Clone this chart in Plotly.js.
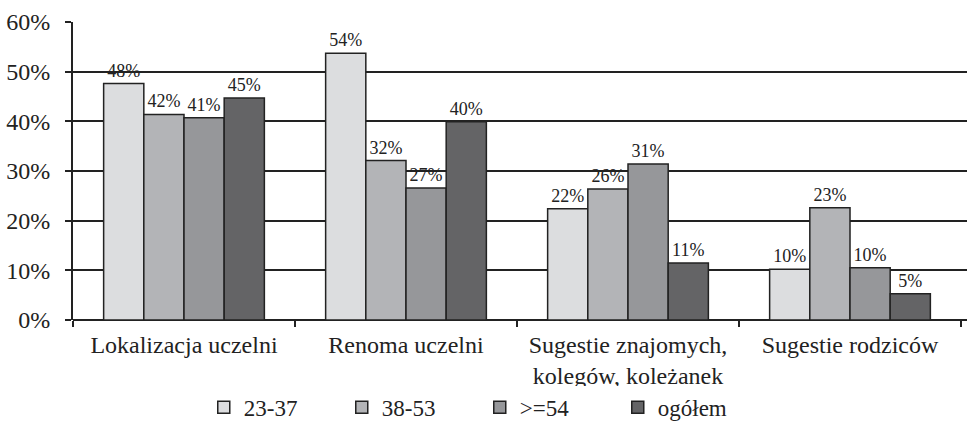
<!DOCTYPE html>
<html>
<head>
<meta charset="utf-8">
<script src="https://cdn.plot.ly/plotly-3.0.1.min.js"></script>
<style>html,body{margin:0;padding:0;background:#fff;overflow:hidden}</style>
</head>
<body>
<div id="chart" style="width:967px;height:429px"></div>
<script>
const categories = ["Lokalizacja uczelni", "Renoma uczelni", "Sugestie znajomych,<br>kolegów, koleżanek", "Sugestie rodziców"];
const seriesNames = ["23-37", "38-53", ">=54", "ogółem"];
const v2337 = [47.6, 53.7, 22.4, 10.2];
const v3853 = [41.4, 32.1, 26.4, 22.6];
const v54 = [40.7, 26.6, 31.4, 10.5];
const vAll = [44.7, 39.9, 11.5, 5.3];
const labels2337 = ["48%", "54%", "22%", "10%"];
const labels3853 = ["42%", "32%", "26%", "23%"];
const labels54 = ["41%", "27%", "31%", "10%"];
const labelsAll = ["45%", "40%", "11%", "5%"];
const colors = ["#dcdddf", "#b3b4b7", "#96979a", "#646466"];

const FONT = "'Liberation Serif', 'Times New Roman', serif";
const vals = [v2337, v3853, v54, vAll];
const labs = [labels2337, labels3853, labels54, labelsAll];
const traces = seriesNames.map((n, i) => ({
  type: "bar",
  name: n,
  x: categories,
  y: vals[i],
  text: labs[i],
  textposition: "outside",
  cliponaxis: false,
  textfont: {family: FONT, size: 18, color: "#222"},
  marker: {color: colors[i], line: {color: "#222", width: 1.5}}
}));

const layout = {
  width: 967, height: 429,
  margin: {l: 73, r: 0, t: 22, b: 107},
  paper_bgcolor: "#fff", plot_bgcolor: "#fff",
  font: {family: FONT, size: 24, color: "#222"},
  barmode: "group",
  bargap: 0.276,
  bargroupgap: 0,
  xaxis: {
    type: "category",
    range: [-0.5, 3.527],
    showgrid: false,
    ticks: "outside", tickson: "boundaries", ticklen: 6, tickcolor: "#222", tickwidth: 1.5,
    showline: false,
    ticklabelstandoff: 8,
    tickfont: {family: FONT, size: 24, color: "#222"}
  },
  yaxis: {
    range: [0, 60],
    tickvals: [0, 10, 20, 30, 40, 50, 60],
    ticktext: ["0%", "10%", "20%", "30%", "40%", "50%", "60%"],
    showgrid: true, gridcolor: "#222", gridwidth: 2,
    zeroline: true, zerolinecolor: "#222", zerolinewidth: 2,
    showline: true, linecolor: "#222", linewidth: 2,
    ticks: "outside", ticklen: 6, tickcolor: "#222", tickwidth: 2,
    ticklabelstandoff: 10,
    tickfont: {family: FONT, size: 24, color: "#222"}
  },
  legend: {
    orientation: "h", x: 0.455, xanchor: "center", y: -0.293, yanchor: "middle",
    font: {family: FONT, size: 23, color: "#222"},
    itemwidth: 30, tracegroupgap: 0, entrywidth: 93, entrywidthmode: "pixels"
  },
  showlegend: true
};
Plotly.newPlot("chart", traces, layout, {staticPlot: true});
</script>
</body>
</html>
